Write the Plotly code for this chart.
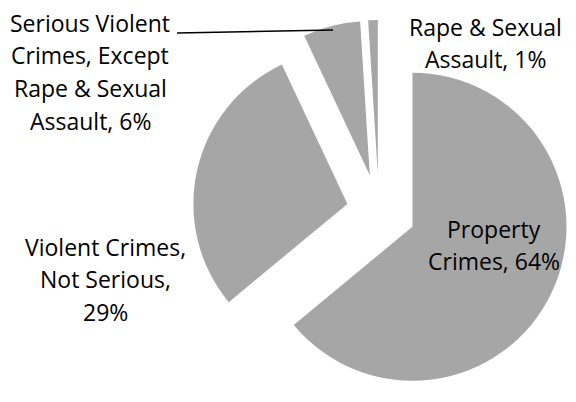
import textwrap
import plotly.graph_objects as go

# ---- data -------------------------------------------------------------
categories = [
    "Property Crimes",
    "Violent Crimes, Not Serious",
    "Serious Violent Crimes, Except Rape & Sexual Assault",
    "Rape & Sexual Assault",
]
percent = [64, 29, 6, 1]

# ---- styling / placement (page pixel positions) ------------------------
pull = [0.24, 0.21, 0.24, 0.24]
label_x = [494, 105, 90, 485]      # label centre (px)
label_y0 = [237, 255, 31, 35]      # first-line baseline (px)
LINE = 32.7
OFF = 8                            # page body margin
W, H = 576 - OFF, 402 - OFF
FS = 23
FONT = "Open Sans"

cx, box_top = 379 - OFF, 20 - OFF
half = (H - box_top) / 2


def px(x):
    return (x - OFF) / W


def py(y):
    return 1 - (y - OFF) / H


fig = go.Figure(
    go.Pie(
        labels=categories,
        values=percent,
        sort=False,
        direction="clockwise",
        rotation=0,
        pull=pull,
        marker=dict(colors=["#a6a6a6"] * len(categories), line=dict(width=0)),
        textinfo="none",
        hoverinfo="label+percent",
        showlegend=False,
        domain=dict(x=[max(0, (cx - half) / W), min(1, (cx + half) / W)],
                    y=[0, 1 - box_top / H]),
    )
)

annotations = []
for i, cat in enumerate(categories):
    lines = textwrap.wrap(f"{cat}, {percent[i]}%", 15)
    for j, ln in enumerate(lines):
        ypx = label_y0[i] + j * LINE - 0.36 * FS
        annotations.append(
            dict(
                x=px(label_x[i]), y=py(ypx), xref="paper", yref="paper",
                text=ln, showarrow=False, xanchor="center", yanchor="middle",
                font=dict(family=FONT, size=FS, color="#000000"),
            )
        )

fig.update_layout(
    width=W, height=H,
    margin=dict(l=0, r=0, t=0, b=0),
    paper_bgcolor="white", plot_bgcolor="white",
    annotations=annotations,
    shapes=[dict(type="line", xref="paper", yref="paper",
                 x0=px(177), y0=py(33), x1=px(333), y1=py(30),
                 line=dict(color="#000000", width=1.5))],
)

fig.write_html("out.html")
